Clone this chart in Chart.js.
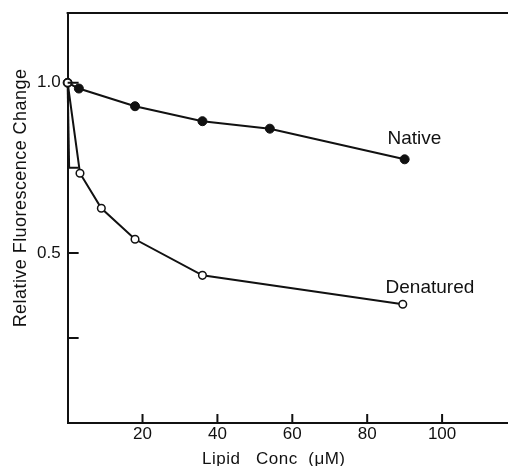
<!DOCTYPE html>
<html>
<head>
<meta charset="utf-8">
<script src="https://cdn.jsdelivr.net/npm/chart.js@4"></script>
<style>
html, body { margin: 0; padding: 0; background: #fff; overflow: hidden; }
#wrap { width: 508px; height: 466px; }
</style>
</head>
<body>
<div id="wrap"><canvas id="myChart"></canvas></div>
<script>
// values
var nativeX = [0, 3, 18, 36, 54, 90];
var nativeY = [1.0, 0.983, 0.931, 0.887, 0.865, 0.775];
var denaturedX = [0, 3.3, 9, 18, 36, 89.5];
var denaturedY = [1.0, 0.734, 0.631, 0.54, 0.434, 0.349];
// the stray stroke running down the y axis from the first point
var strayX = [0, 0.4];
var strayY = [1.0, 0.75];
var xTicks = [20, 40, 60, 80, 100];
var yTicks = [0.25, 0.5, 0.75, 1.0];
var yTickLabels = ['', '0.5', '', '1.0'];
var seriesNames = ['Native', 'Denatured'];
var xTitle = 'Lipid   Conc  (\u03bcM)';
var yTitle = 'Relative Fluorescence Change';

var FONT = '"Liberation Sans", Arial, Helvetica, sans-serif';
var INK = '#111';

function pts(xs, ys) {
    return xs.map(function (x, i) { return { x: x, y: ys[i] }; });
}

// inward ticks, top frame line, axis titles and the series names
var extras = {
    id: 'extras',
    afterDraw: function (chart) {
        var c = chart.ctx, a = chart.chartArea;
        var xs = chart.scales.x, ys = chart.scales.y;
        c.save();
        c.strokeStyle = INK;
        c.lineWidth = 2;
        c.beginPath();
        c.moveTo(a.left - 1, a.top);
        c.lineTo(a.right, a.top);
        xTicks.forEach(function (v) {
            var px = xs.getPixelForValue(v);
            c.moveTo(px, a.bottom);
            c.lineTo(px, a.bottom - 9);
        });
        yTicks.forEach(function (v) {
            var py = ys.getPixelForValue(v);
            c.moveTo(a.left, py);
            c.lineTo(a.left + 11, py);
        });
        c.stroke();

        c.fillStyle = INK;
        c.textBaseline = 'alphabetic';
        c.font = '19px ' + FONT;
        c.textAlign = 'left';
        c.fillText(seriesNames[0], xs.getPixelForValue(85.4), ys.getPixelForValue(0.821));
        c.fillText(seriesNames[1], xs.getPixelForValue(84.9), ys.getPixelForValue(0.381));

        c.font = '17px ' + FONT;
        c.letterSpacing = '0.5px';
        c.fillText(xTitle, 202, 464);

        c.font = '18px ' + FONT;
        c.letterSpacing = '0.45px';
        c.translate(26, 198);
        c.rotate(-Math.PI / 2);
        c.textAlign = 'center';
        c.fillText(yTitle, 0, 0);
        c.restore();
    }
};

var ctx = document.getElementById('myChart').getContext('2d');
var myChart = new Chart(ctx, {
    type: 'line',
    data: {
        datasets: [{
            label: seriesNames[1],
            data: pts(denaturedX, denaturedY),
            borderColor: INK,
            borderWidth: 2,
            pointRadius: 3.8,
            pointBackgroundColor: '#fff',
            pointBorderColor: INK,
            pointBorderWidth: 1.5,
            tension: 0,
            clip: false
        }, {
            label: seriesNames[0],
            data: pts(nativeX, nativeY),
            borderColor: INK,
            borderWidth: 2,
            pointRadius: 4.5,
            pointBackgroundColor: INK,
            pointBorderColor: INK,
            pointBorderWidth: 1,
            tension: 0,
            clip: false
        }, {
            label: 'stray',
            data: pts(strayX, strayY),
            borderColor: INK,
            borderWidth: 2,
            pointRadius: 0,
            tension: 0,
            clip: false
        }]
    },
    options: {
        responsive: true,
        maintainAspectRatio: false,
        animation: false,
        events: [],
        layout: {
            autoPadding: false,
            padding: { left: 30, top: 13, right: 0, bottom: 20.6 }
        },
        plugins: {
            legend: { display: false },
            tooltip: { enabled: false }
        },
        scales: {
            x: {
                type: 'linear',
                min: 0,
                max: 117.6,
                afterBuildTicks: function (s) {
                    s.ticks = xTicks.map(function (v) { return { value: v }; });
                },
                grid: { display: false, drawTicks: false },
                border: { display: true, color: INK, width: 2 },
                ticks: {
                    color: INK,
                    padding: 1,
                    maxRotation: 0,
                    font: { family: FONT, size: 17 }
                }
            },
            y: {
                type: 'linear',
                min: 0,
                max: 1.205,
                afterBuildTicks: function (s) {
                    s.ticks = yTicks.map(function (v) { return { value: v }; });
                },
                afterFit: function (s) {
                    s.paddingTop = 0;
                    s.paddingBottom = 0;
                },
                grid: { display: false, drawTicks: false },
                border: { display: true, color: INK, width: 2 },
                ticks: {
                    color: INK,
                    padding: 7,
                    font: { family: FONT, size: 17 },
                    callback: function (v, i) { return yTickLabels[i]; }
                }
            }
        }
    },
    plugins: [extras]
});
</script>
</body>
</html>
